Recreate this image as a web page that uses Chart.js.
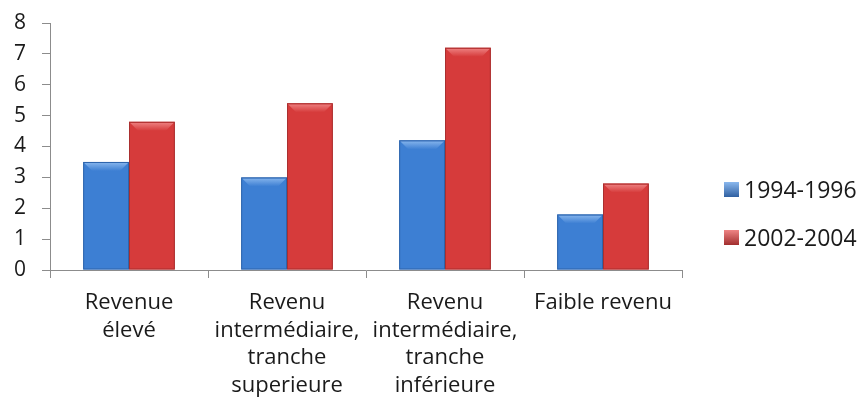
<!DOCTYPE html>
<html>
<head>
<meta charset="utf-8">
<script src="https://cdn.jsdelivr.net/npm/chart.js@4/dist/chart.umd.min.js"></script>
<style>
  html, body { margin: 0; padding: 0; background: #fff; }
  #wrap { width: 861px; height: 412px; }
</style>
</head>
<body>
<div id="wrap"><canvas id="myChart" width="861" height="412"></canvas></div>
<script>
var categories = [
  ["Revenue", "élevé"],
  ["Revenu", "intermédiaire,", "tranche", "superieure"],
  ["Revenu", "intermédiaire,", "tranche", "inférieure"],
  ["Faible revenu"]
];
var seriesNames = ["1994-1996", "2002-2004"];
var values9496 = [3.5, 3.0, 4.2, 1.8];
var values0204 = [4.8, 5.4, 7.2, 2.8];
var yTicks = [0, 1, 2, 3, 4, 5, 6, 7, 8];

var FONT = "'Open Sans', Lato, sans-serif";

var palette = [
  { main: '#3d7fd3', light: '#8ab8ee', dark: '#2a5a9c', edge: '#2e64aa' },
  { main: '#d63b3b', light: '#ef8585', dark: '#9c2828', edge: '#aa2f2f' }
];

function barFill(ctx) {
  var el = ctx.element;
  var p = palette[ctx.datasetIndex];
  if (!el || !isFinite(el.x)) return p.main;
  var c = ctx.chart.ctx;
  var g = c.createLinearGradient(el.x - el.width / 2, 0, el.x + el.width / 2, 0);
  g.addColorStop(0, p.dark);
  g.addColorStop(0.12, p.main);
  g.addColorStop(0.88, p.main);
  g.addColorStop(1, p.dark);
  return g;
}

// bevel on top of every bar
var bevel = {
  id: 'bevel',
  afterDatasetsDraw: function(chart) {
    var c = chart.ctx;
    chart.data.datasets.forEach(function(ds, i) {
      var p = palette[i];
      chart.getDatasetMeta(i).data.forEach(function(b) {
        var l = b.x - b.width / 2, r = b.x + b.width / 2, t = b.y, d = 9;
        c.save();
        var g = c.createLinearGradient(0, t, 0, t + d);
        g.addColorStop(0, p.light);
        g.addColorStop(1, p.main);
        c.fillStyle = g;
        c.beginPath();
        c.moveTo(l + 1, t + 1);
        c.lineTo(r - 1, t + 1);
        c.lineTo(r - d, t + d);
        c.lineTo(l + d, t + d);
        c.closePath();
        c.fill();
        c.strokeStyle = p.edge;
        c.lineWidth = 1;
        c.strokeRect(l + 0.5, t + 0.5, b.width - 1, b.base - t - 1);
        c.restore();
      });
    });
  }
};

// legend on the right
var sideLegend = {
  id: 'sideLegend',
  afterDraw: function(chart) {
    var c = chart.ctx;
    var ys = [190, 238];
    c.save();
    c.font = '23px ' + FONT;
    c.textBaseline = 'middle';
    c.textAlign = 'left';
    seriesNames.forEach(function(name, i) {
      var p = palette[i];
      var g = c.createLinearGradient(0, ys[i] - 8, 0, ys[i] + 8);
      g.addColorStop(0, p.light);
      g.addColorStop(1, p.dark);
      c.fillStyle = g;
      c.fillRect(724, ys[i] - 8, 15, 15);
      c.fillStyle = '#1a1a1a';
      c.fillText(name, 744, ys[i] + 1);
    });
    c.restore();
  }
};

var ctx = document.getElementById('myChart').getContext('2d');
var chart = new Chart(ctx, {
  type: 'bar',
  data: {
    labels: categories,
    datasets: [{
      label: seriesNames[0],
      data: values9496,
      backgroundColor: barFill,
      borderWidth: 0
    }, {
      label: seriesNames[1],
      data: values0204,
      backgroundColor: barFill,
      borderWidth: 0
    }]
  },
  options: {
    responsive: false,
    animation: false,
    categoryPercentage: 0.58,
    barPercentage: 1,
    layout: { padding: { top: 23, right: 179, left: 0, bottom: 0 } },
    plugins: {
      legend: { display: false },
      tooltip: { enabled: false }
    },
    scales: {
      x: {
        offset: true,
        grid: { drawOnChartArea: false, color: '#8c8c8c', tickLength: 8, offset: true },
        border: { color: '#8c8c8c' },
        ticks: {
          color: '#1a1a1a',
          font: { family: FONT, size: 22, lineHeight: '27.6px' },
          padding: 11,
          maxRotation: 0,
          autoSkip: false
        },
        afterFit: function(s) { s.height = 142; s.paddingLeft = 0; s.paddingRight = 0; }
      },
      y: {
        min: 0,
        max: 8,
        afterBuildTicks: function(s) { s.ticks = yTicks.map(function(v) { return { value: v }; }); },
        grid: { drawOnChartArea: false, color: '#8c8c8c', tickLength: 8 },
        border: { color: '#8c8c8c' },
        ticks: {
          color: '#1a1a1a',
          font: { family: FONT, size: 21 },
          padding: 16
        },
        afterFit: function(s) { s.width = 50; s.paddingTop = 0; s.paddingBottom = 0; }
      }
    }
  },
  plugins: [bevel, sideLegend]
});
</script>
</body>
</html>
